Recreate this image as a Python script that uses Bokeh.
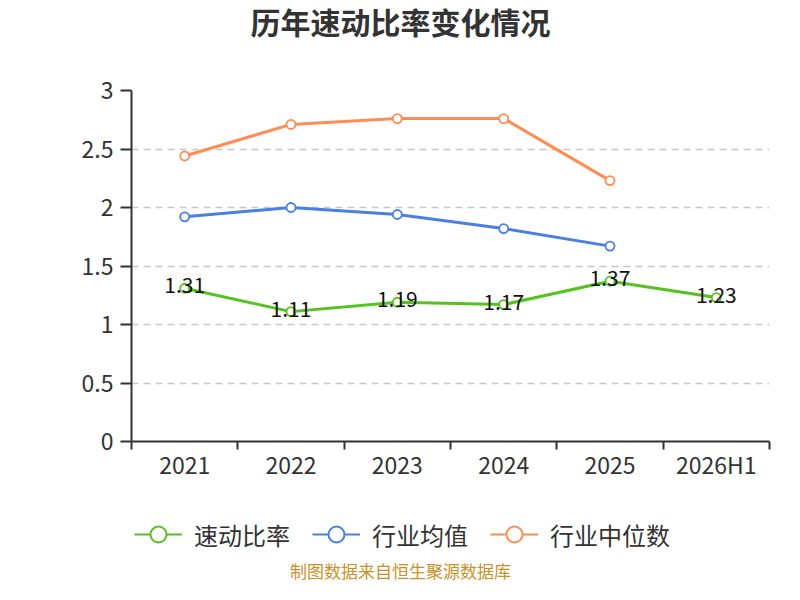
from bokeh.plotting import figure
from bokeh.models import Range1d, FixedTicker, Legend, LegendItem, Label
from bokeh.layouts import column
from bokeh.core.properties import value
from bokeh.embed import file_html
from bokeh.resources import INLINE

years = ["2021", "2022", "2023", "2024", "2025", "2026H1"]
quick_ratio = [1.31, 1.11, 1.19, 1.17, 1.37, 1.23]
industry_mean = [1.92, 2.00, 1.94, 1.82, 1.67]
industry_median = [2.44, 2.71, 2.76, 2.76, 2.23]
y_ticks = [0, 0.5, 1, 1.5, 2, 2.5, 3]
y_tick_labels = ["0", "0.5", "1", "1.5", "2", "2.5", "3"]
series_names = ["速动比率", "行业均值", "行业中位数"]
title_text = "历年速动比率变化情况"
source_text = "制图数据来自恒生聚源数据库"

FONT = "Noto Sans CJK SC"
GREEN = "#55c21f"
BLUE = "#4a7fe3"
ORANGE = "#ff8c55"
AXIS = "#333333"
W = 784
LEFT = 131  # frame left edge; strips in the column share this frame alignment

pos = [i + 0.5 for i in range(len(years))]
bounds = list(range(len(years) + 1))
series = [(quick_ratio, GREEN), (industry_mean, BLUE), (industry_median, ORANGE)]
NAN = float("nan")


def blank(h):
    f = figure(width=W, height=h, output_backend="svg", toolbar_location=None,
               x_range=Range1d(0, 1), y_range=Range1d(0, 1),
               x_axis_type=None, y_axis_type=None, min_border=0)
    f.outline_line_color = None
    f.grid.visible = False
    return f


# ---- title strip ----
p0 = blank(66)
p0.add_layout(Label(x=400 - LEFT, y=46, x_units="screen", y_units="screen", text=title_text,
                    text_align="center", text_baseline="middle", text_font=FONT,
                    text_font_size="30px", text_font_style="bold", text_color=AXIS))

# ---- chart ----
p = figure(width=W, height=435, output_backend="svg", toolbar_location=None,
           x_range=Range1d(0, len(years)), y_range=Range1d(0, 3),
           min_border_left=LEFT, min_border_right=15, min_border_top=24,
           min_border_bottom=60)
p.outline_line_color = None

xa = p.xaxis[0]
xa.ticker = FixedTicker(ticks=pos, minor_ticks=bounds)
xa.major_label_overrides = {pv: y for pv, y in zip(pos, years)}
xa.major_tick_line_color = None
xa.major_tick_in = 0
xa.major_tick_out = 0
xa.minor_tick_in = 0
xa.minor_tick_out = 8
xa.minor_tick_line_color = AXIS
xa.minor_tick_line_width = 2
xa.axis_line_color = AXIS
xa.axis_line_width = 2
xa.major_label_text_font = FONT
xa.major_label_text_font_size = "23px"
xa.major_label_text_color = AXIS
xa.major_label_standoff = -3

ya = p.yaxis[0]
ya.ticker = FixedTicker(ticks=y_ticks)
ya.major_label_overrides = {t: l for t, l in zip(y_ticks, y_tick_labels)}
ya.major_tick_in = 0
ya.major_tick_out = 11
ya.major_tick_line_color = AXIS
ya.major_tick_line_width = 2
ya.minor_tick_line_color = None
ya.axis_line_color = AXIS
ya.axis_line_width = 2
ya.major_label_text_font = FONT
ya.major_label_text_font_size = "23px"
ya.major_label_text_color = AXIS
ya.major_label_standoff = 7

p.xgrid.grid_line_color = None
p.ygrid.ticker = FixedTicker(ticks=y_ticks)
p.ygrid.grid_line_color = "#c8c8c8"
p.ygrid.grid_line_dash = "7 5"
p.ygrid.grid_line_width = 1.5

for vals, col in series:
    xs = pos[:len(vals)]
    p.line(xs, vals, line_color=col, line_width=3)
    p.scatter(xs, vals, size=9, fill_color="white", line_color=col, line_width=1.8)

p.text(x=pos, y=quick_ratio, text=[f"{v:.2f}" for v in quick_ratio],
       text_align="center", text_baseline="middle", text_font=value(FONT),
       text_font_size="21px", text_color="#111111", y_offset=-3)

# ---- legend + source strip ----
p2 = blank(83)
items = []
for name, (vals, col) in zip(series_names, series):
    ln = p2.line([NAN], [NAN], line_color=col, line_width=2)
    sc = p2.scatter([NAN], [NAN], size=16, fill_color="white", line_color=col, line_width=2)
    items.append(LegendItem(label=name, renderers=[ln, sc]))

legend = Legend(items=items, orientation="horizontal", location=(134 - LEFT, 30),
                glyph_width=48, glyph_height=40, label_text_font=FONT,
                label_text_font_size="24px", label_text_color=AXIS,
                label_text_baseline="middle",
                border_line_color=None, background_fill_alpha=0,
                spacing=22, label_standoff=12, margin=0, padding=0)
p2.add_layout(legend, "center")

p2.add_layout(Label(x=400 - LEFT, y=14, x_units="screen", y_units="screen", text=source_text,
                    text_align="center", text_baseline="middle", text_font=FONT,
                    text_font_size="17px", text_color="#c8922a"))

layout = column(p0, p, p2, spacing=0)
open("out.html", "w").write(file_html(layout, INLINE))
